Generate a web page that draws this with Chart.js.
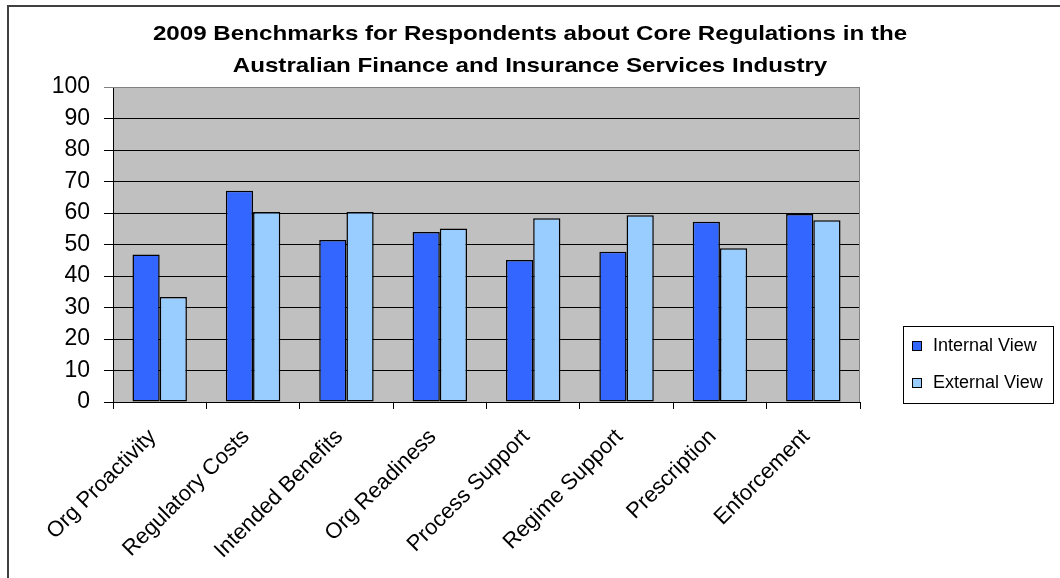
<!DOCTYPE html>
<html>
<head>
<meta charset="utf-8">
<title>2009 Benchmarks</title>
<script src="https://cdn.jsdelivr.net/npm/chart.js@4.4.1/dist/chart.umd.min.js"></script>
<style>
  html, body { margin: 0; padding: 0; background: #fff; }
  #wrap { width: 1060px; height: 578px; position: relative; }
</style>
</head>
<body>
<div id="wrap"><canvas id="benchmarks"></canvas></div>
<script>
// categories and scores per view
const categories = [
    'Org Proactivity', 'Regulatory Costs', 'Intended Benefits', 'Org Readiness',
    'Process Support', 'Regime Support', 'Prescription', 'Enforcement'
];
const internalView = [46.8, 67.1, 51.4, 54.0, 45.1, 47.7, 57.2, 59.7];
const externalView = [33.3, 60.3, 60.3, 55.1, 58.3, 59.3, 48.8, 57.7];
const yTicks = [0, 10, 20, 30, 40, 50, 60, 70, 80, 90, 100];
const titleLines = [
    '2009 Benchmarks for Respondents about Core Regulations in the',
    'Australian Finance and Insurance Services Industry'
];

const FONT = 'Arial, "Liberation Sans", sans-serif';

// grey plot background, outer frame and plot border
const backdrop = {
    id: 'backdrop',
    beforeDraw(chart) {
        const ctx = chart.ctx;
        const a = chart.chartArea;
        ctx.save();
        ctx.fillStyle = '#C0C0C0';
        ctx.fillRect(a.left, a.top, a.right - a.left, a.bottom - a.top);
        ctx.strokeStyle = '#404040';
        ctx.lineWidth = 2;
        ctx.beginPath();
        ctx.moveTo(8, chart.height);
        ctx.lineTo(8, 6);
        ctx.lineTo(chart.width, 6);
        ctx.stroke();
        ctx.restore();
    },
    afterDraw(chart) {
        const ctx = chart.ctx;
        const a = chart.chartArea;
        ctx.save();
        ctx.strokeStyle = '#808080';
        ctx.lineWidth = 1;
        ctx.beginPath();
        ctx.moveTo(a.left, a.top + 0.5);
        ctx.lineTo(a.right - 0.5, a.top + 0.5);
        ctx.lineTo(a.right - 0.5, a.bottom);
        ctx.stroke();
        ctx.restore();
    }
};

// two-line bold title, slightly widened, centred on the page
const wideTitle = {
    id: 'wideTitle',
    afterDraw(chart) {
        const ctx = chart.ctx;
        ctx.save();
        ctx.font = 'bold 21px ' + FONT;
        ctx.fillStyle = '#000';
        ctx.textAlign = 'center';
        ctx.textBaseline = 'alphabetic';
        ctx.translate(530, 0);
        ctx.scale(1.15, 1);
        titleLines.forEach((line, i) => {
            ctx.fillText(line, 0, 40 + i * 32);
        });
        ctx.restore();
    }
};

// boxed legend at the right
const sideLegend = {
    id: 'sideLegend',
    afterDraw(chart) {
        const ctx = chart.ctx;
        const box = { x: 903, y: 326, w: 150, h: 77 };
        ctx.save();
        ctx.fillStyle = '#fff';
        ctx.fillRect(box.x, box.y, box.w, box.h);
        ctx.strokeStyle = '#000';
        ctx.lineWidth = 1;
        ctx.strokeRect(box.x + 0.5, box.y + 0.5, box.w, box.h);
        ctx.font = '18px ' + FONT;
        ctx.textBaseline = 'middle';
        ctx.textAlign = 'left';
        chart.data.datasets.forEach((ds, i) => {
            const cy = 346 + i * 37;
            ctx.fillStyle = ds.backgroundColor;
            ctx.fillRect(912.5, cy - 4.5, 9, 9);
            ctx.strokeStyle = '#000';
            ctx.strokeRect(912.5, cy - 4.5, 9, 9);
            ctx.fillStyle = '#000';
            ctx.fillText(ds.label, 933, cy);
        });
        ctx.restore();
    }
};

const ctx = document.getElementById('benchmarks').getContext('2d');
new Chart(ctx, {
    type: 'bar',
    data: {
        labels: categories,
        datasets: [{
            label: 'Internal View',
            data: internalView,
            backgroundColor: '#3366FF',
            borderColor: '#000',
            borderWidth: 1.5,
            borderSkipped: false
        }, {
            label: 'External View',
            data: externalView,
            backgroundColor: '#99CCFF',
            borderColor: '#000',
            borderWidth: 1.5,
            borderSkipped: false
        }]
    },
    options: {
        responsive: true,
        maintainAspectRatio: false,
        animation: false,
        datasets: {
            bar: { categoryPercentage: 0.583, barPercentage: 1.0 }
        },
        layout: { padding: { left: 8, right: 200, top: 87, bottom: 0 } },
        scales: {
            x: {
                offset: true,
                grid: {
                    offset: true,
                    drawOnChartArea: false,
                    drawTicks: true,
                    tickLength: 7,
                    color: '#000'
                },
                border: { display: true, color: '#000', width: 1 },
                ticks: {
                    color: '#000',
                    font: { family: FONT, size: 22 },
                    minRotation: 45,
                    maxRotation: 45,
                    padding: 15,
                    labelOffset: -7,
                    autoSkip: false
                },
                afterFit(scale) { scale.height = 176; }
            },
            y: {
                min: 0,
                max: 100,
                afterBuildTicks(scale) {
                    scale.ticks = yTicks.map(v => ({ value: v }));
                },
                grid: {
                    color: ctx => ctx.tick && ctx.tick.value === 100 ? '#808080' : '#000',
                    tickLength: 9,
                    lineWidth: 1
                },
                border: { display: true, color: '#000', width: 1 },
                ticks: {
                    color: '#000',
                    font: { family: FONT, size: 23 },
                    padding: 14
                },
                afterFit(scale) { scale.width = 105; }
            }
        },
        plugins: {
            legend: { display: false },
            tooltip: { enabled: false },
            title: { display: false }
        }
    },
    plugins: [backdrop, wideTitle, sideLegend]
});
</script>
</body>
</html>
